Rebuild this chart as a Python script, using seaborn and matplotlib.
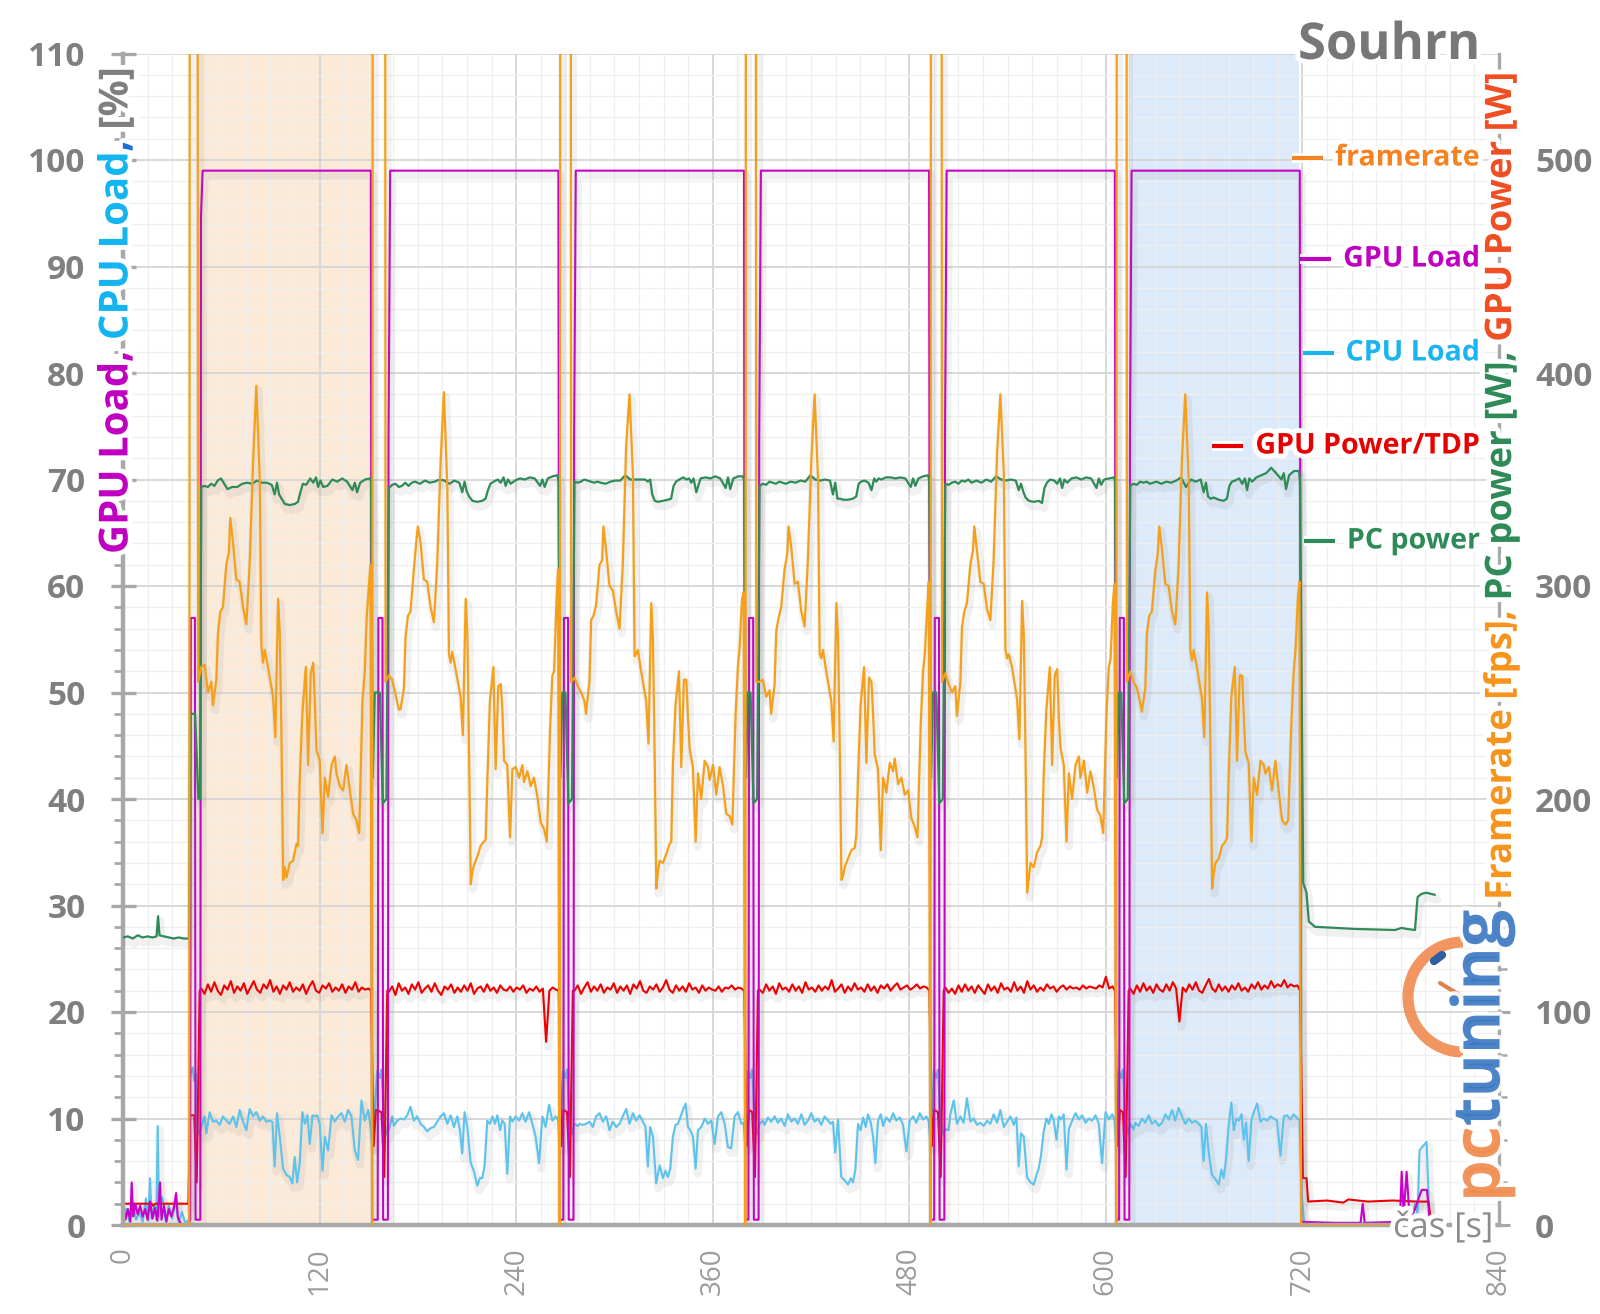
import numpy as np
import matplotlib
matplotlib.use("Agg")
import matplotlib.pyplot as plt
import matplotlib.patheffects as pe
from matplotlib.ticker import MultipleLocator
from matplotlib.lines import Line2D
from matplotlib.patches import Arc
from matplotlib.transforms import IdentityTransform
import seaborn as sns

sns.set_style("white")
plt.rcParams['font.family'] = ['Open Sans', 'DejaVu Sans']

# ---------------- data ----------------
RUN_START = [47.8, 162.3, 275.6, 388.6, 502.0, 614.9]   # s, start of each benchmark run
RUN_LEN = 103.3
SHADE_ORANGE = (45.8, 152.2)
SHADE_BLUE = (614.3, 718.2)

# framerate [fps] inside runs (relative time grid)
FPS_REL = [0, 2.0, 4.1, 6.1, 7.1, 9.2, 10.2, 11.6, 13.2, 15.3, 16.9, 17.7, 19.4, 21.4, 23.4, 25.5,
           27.5, 29.5, 31.6, 33.6, 35.7, 36.7, 37.7, 38.7, 40.7, 43.8, 45.2, 46.9, 47.9, 48.9, 50.0,
           51.0, 52.0, 54.0, 56.0, 58.1, 59.1, 60.1, 61.7, 63.8, 65.2, 66.8, 68.3, 69.3, 70.3, 72.3,
           74.0, 75.4, 77.4, 79.5, 81.5, 82.5, 84.6, 86.6, 88.6, 90.7, 92.7, 94.7, 96.4, 98.4, 99.8,
           100.9, 102.3, 103.3]
FPS_RUN1 = [262, 263, 250, 255, 244, 256, 278, 288, 290, 310, 316, 332, 320, 303, 302, 290, 282, 310, 358, 394,
            350, 272, 264, 270, 262, 248, 229, 294, 278, 232, 162, 168, 163, 170, 171, 179, 178, 209, 240, 262,
            216, 259, 264, 246, 223, 218, 184, 210, 201, 216, 220, 212, 206, 204, 216, 204, 193, 190, 184, 246,
            260, 284, 300, 310]
FPS_RUN2 = [258, 256, 249, 242, 242, 252, 276, 286, 288, 308, 322, 328, 320, 303, 302, 290, 283, 310, 358, 391,
            346, 268, 264, 269, 261, 248, 230, 294, 278, 226, 160, 166, 169, 173, 178, 180, 181, 208, 246, 262,
            214, 253, 254, 242, 218, 216, 182, 214, 215, 210, 216, 208, 213, 206, 210, 201, 189, 186, 180, 232,
            258, 260, 292, 308]
FPS_RUN3 = [257, 253, 250, 246, 240, 256, 284, 286, 291, 310, 312, 328, 316, 300, 298, 288, 280, 310, 366, 390,
            352, 267, 268, 270, 260, 246, 226, 292, 275, 224, 158, 166, 171, 170, 174, 179, 180, 216, 244, 260,
            215, 256, 256, 238, 224, 215, 180, 212, 200, 218, 215, 209, 216, 202, 215, 206, 193, 192, 188, 240,
            262, 272, 294, 297]
FPS_RUN4 = [255, 256, 248, 251, 240, 254, 279, 285, 290, 308, 315, 328, 318, 301, 302, 288, 281, 312, 359, 390,
            350, 268, 266, 270, 260, 246, 227, 292, 276, 228, 162, 164, 168, 172, 176, 177, 183, 210, 244, 262,
            217, 257, 255, 240, 221, 214, 176, 210, 203, 217, 213, 219, 207, 210, 202, 204, 191, 187, 182, 235,
            260, 268, 289, 302]
FPS_RUN5 = [259, 254, 250, 253, 239, 255, 281, 288, 292, 310, 317, 328, 316, 302, 301, 289, 284, 312, 362, 390,
            353, 270, 266, 268, 262, 247, 228, 293, 277, 225, 156, 163, 170, 168, 175, 178, 182, 212, 242, 262,
            216, 258, 261, 238, 224, 216, 180, 212, 200, 216, 220, 210, 218, 203, 213, 205, 195, 192, 184, 240,
            262, 266, 292, 301]
FPS_RUN6 = [260, 255, 252, 245, 241, 252, 278, 286, 288, 307, 316, 328, 317, 301, 300, 288, 282, 309, 360, 390,
            349, 270, 265, 270, 262, 247, 229, 297, 279, 226, 158, 165, 170, 172, 178, 180, 182, 211, 248, 262,
            218, 258, 258, 239, 222, 217, 180, 210, 202, 218, 216, 212, 215, 204, 218, 203, 190, 188, 190, 236,
            260, 270, 294, 302]
FPS_RUNS = [FPS_RUN1, FPS_RUN2, FPS_RUN3, FPS_RUN4, FPS_RUN5, FPS_RUN6]
FPS_PRE_T = [0, 40.4, 41.0, 45.3, 45.8]
FPS_PRE_V = [0, 0, 1000, 1000, 255]
FPS_GAP_AFTER = [(1.0, 0), (1.6, 1000)]      # relative to run end
FPS_GAP_BEFORE = [(-2.5, 1000), (-2.0, 255)]  # relative to next run start
FPS_POST_T = [719.2, 772.5]
FPS_POST_V = [0, 0]

# GPU load [%]
GPU_STEP = [94.7, 74, 74, 74, 74, 74]
GPU_TOP = 99
GPU_PRE_T = [0, 1.5, 3, 4.5, 5.3, 6.2, 7.5, 9, 10.5, 12, 13.5, 15, 16.5, 18, 19.5, 21, 22.6, 23.5, 25, 26.5,
             28, 29.5, 31, 32.4, 33.5, 35, 37, 40]
GPU_PRE_V = [1.8, 0.5, 1.5, 0.3, 4.0, 0.8, 2.0, 1.0, 1.8, 0.8, 1.5, 0.5, 2.2, 0.6, 1.6, 0.4, 4.0, 0.5, 1.8, 0.3,
             1.5, 0.8, 1.6, 3.0, 0.7, 0.2, 0.0, 0.0]
GPU_GAP_AFTER = [(1.0, 0.5)]
GPU_GAP_BEFORE = [(-6.8, 0.5), (-6.4, 57), (-3.9, 57), (-3.5, 0.5)]
GPU_POST_T = [718.4, 719.2, 740, 755.5, 756.8, 758, 779.5, 780.6, 781.8, 783.6, 785.5, 788.7, 792.8, 796, 797.5]
GPU_POST_V = [99, 0.3, 0.2, 0.2, 2.0, 0.2, 0.3, 5.0, 1.0, 5.0, 0.5, 1.5, 3.3, 3.3, 0.8]

# CPU load [%]
CPU_REL = [0, 2.0, 3.1, 5.1, 7.1, 9.2, 11.2, 13.2, 15.3, 17.3, 19.4, 21.4, 23.4, 25.5, 27.5, 29.5, 31.6, 33.6,
           35.7, 37.7, 39.7, 41.8, 43.4, 44.8, 46.2, 47.9, 49.9, 52.0, 54.0, 55.6, 57.0, 58.5, 60.1, 61.7, 63.2,
           64.8, 66.2, 67.9, 69.3, 70.7, 72.3, 74.0, 75.4, 77.4, 79.5, 81.5, 83.5, 85.6, 87.6, 89.6, 91.7, 93.7,
           95.7, 97.8, 99.8, 101.9, 103.3]
CPU_RUN1 = [9.2, 10.2, 8.6, 10.6, 9.7, 9.8, 9.4, 10.2, 9.8, 9.5, 10.2, 9.2, 10.8, 9.7, 8.9, 10.9, 10.2, 10.6, 9.8,
            10.2, 9.7, 9.8, 9.7, 5.5, 10.5, 8.3, 5.3, 4.7, 4.5, 3.9, 6.4, 4.0, 5.8, 10.6, 9.5, 10.3, 7.6, 10.3, 10.2,
            10.3, 9.5, 5.1, 8.3, 7.0, 10.3, 9.7, 10.2, 10.5, 9.7, 10.8, 10.2, 7.0, 6.1, 11.7, 9.8, 10.8, 9.2]
CPU_RUN2 = [8.9, 10.2, 9.3, 9.8, 10.0, 9.9, 10.3, 11.1, 9.8, 10.2, 9.5, 9.2, 8.8, 9.1, 9.2, 9.7, 10.2, 10.5, 9.5,
            10.3, 9.2, 10.2, 8.9, 6.7, 10.6, 9.2, 5.9, 5.0, 3.7, 4.4, 4.4, 5.6, 9.8, 9.5, 10.2, 9.5, 10.3, 8.9, 9.8,
            9.5, 4.8, 10.2, 9.7, 10.2, 9.8, 10.5, 9.7, 10.6, 9.5, 8.3, 5.8, 10.2, 9.2, 11.3, 9.8, 10.2, 9.9]
CPU_RUN3 = [9.5, 9.3, 9.5, 9.4, 9.5, 9.7, 9.2, 10.2, 10.5, 9.7, 10.2, 8.9, 9.7, 9.2, 9.5, 10.2, 10.9, 9.5, 10.5,
            9.8, 10.3, 9.7, 9.2, 5.5, 9.2, 8.3, 3.9, 5.6, 4.4, 5.1, 4.5, 5.3, 8.3, 9.4, 9.5, 10.2, 10.8, 11.4, 9.2,
            8.9, 8.3, 5.3, 8.9, 9.2, 10.0, 9.5, 9.8, 7.6, 10.2, 10.6, 9.5, 7.3, 7.2, 10.2, 10.6, 9.5, 9.6]
CPU_RUN4 = [9.5, 9.8, 9.4, 10.1, 9.7, 10.2, 9.6, 10.0, 9.3, 10.4, 9.7, 10.0, 9.5, 10.4, 9.4, 9.8, 10.5, 9.7, 10.0,
            9.4, 10.2, 9.8, 9.5, 9.7, 6.8, 9.9, 4.5, 4.2, 3.8, 4.4, 4.0, 5.2, 9.5, 8.9, 10.1, 9.2, 10.4, 9.6, 8.3,
            5.8, 9.8, 10.4, 9.3, 10.1, 9.7, 10.5, 9.8, 10.1, 9.4, 6.9, 9.8, 10.2, 9.6, 10.5, 9.9, 10.2, 9.7]
CPU_RUN5 = [9.0, 8.9, 10.4, 11.7, 9.5, 10.2, 9.6, 11.9, 9.7, 10.0, 9.4, 9.6, 9.3, 9.8, 9.5, 10.4, 9.6, 10.8, 9.2,
            9.7, 10.2, 9.4, 10.1, 5.5, 8.6, 8.3, 4.5, 4.0, 3.8, 4.7, 5.3, 6.6, 8.8, 10.0, 9.5, 10.4, 9.8, 8.0, 10.2,
            9.9, 10.4, 5.2, 9.0, 9.8, 10.5, 9.9, 10.3, 9.6, 10.0, 9.8, 10.3, 9.5, 5.8, 10.6, 9.9, 10.4, 9.8]
CPU_RUN6 = [9.5, 9.0, 9.6, 9.3, 10.0, 9.6, 10.3, 9.5, 9.8, 9.3, 9.6, 10.4, 9.9, 10.8, 9.8, 11.0, 10.2, 9.5, 10.0,
            9.6, 9.8, 9.5, 9.2, 6.0, 9.5, 6.8, 4.7, 4.3, 3.8, 5.2, 4.4, 6.2, 9.4, 11.5, 8.9, 10.0, 9.8, 10.4, 8.0,
            9.6, 6.0, 9.9, 10.6, 11.4, 9.7, 10.0, 9.8, 10.2, 10.0, 9.8, 6.5, 10.2, 10.3, 9.9, 10.4, 10.0, 9.9]
CPU_RUNS = [CPU_RUN1, CPU_RUN2, CPU_RUN3, CPU_RUN4, CPU_RUN5, CPU_RUN6]
CPU_PRE_T = [0, 2, 4, 6, 8, 10, 12, 14, 15.5, 16.5, 17.5, 19, 20.3, 21.2, 22, 24, 26, 28, 30, 32, 34, 36, 38, 40.4,
             41.0, 42.5, 43.5, 44.5, 45.5, 46.3]
CPU_PRE_V = [0.5, 1.5, 0.3, 2.0, 0.5, 1.2, 0.3, 2.5, 0.4, 4.4, 0.6, 1.8, 0.5, 9.3, 0.8, 2.6, 0.4, 1.8, 0.6, 2.2,
             0.3, 1.2, 0.2, 0.5, 14.0, 14.8, 13.5, 14.2, 9.0, 8.5]
CPU_GAP_AFTER = [(1.0, 7.5)]
CPU_GAP_BEFORE = [(-7.0, 14.5), (-5.5, 13.8), (-4.5, 14.6), (-3.0, 10.0), (-1.5, 8.5)]
CPU_POST_T = [719.5, 721, 760, 787, 788.7, 790.3, 791.5, 793.5, 795.8, 797.3]
CPU_POST_V = [3.0, 0.2, 0.2, 0.3, 2.0, 1.0, 7.0, 7.4, 7.8, 1.5]

# GPU Power/TDP [%], sampled every 2 s inside runs
RED_STEP = 2
RED_RUN1 = [22.2, 21.7, 22.6, 21.9, 22.8, 22.0, 21.6, 22.5, 22.1, 22.9, 21.8, 22.4, 22.0, 22.7, 21.7, 22.3, 22.9,
            22.1, 21.8, 22.6, 22.2, 23.0, 21.9, 22.4, 21.7, 22.5, 22.1, 22.8, 21.9, 22.3, 22.0, 22.6, 21.7, 22.4,
            22.9, 22.0, 21.8, 22.5, 22.2, 22.7, 21.9, 22.3, 22.0, 22.6, 21.8, 22.4, 22.1, 22.8, 21.9, 22.3, 22.1, 22.2]
RED_RUN2 = [21.9, 22.4, 21.6, 22.7, 22.0, 22.3, 21.7, 22.6, 22.1, 22.8, 21.8, 22.2, 22.5, 21.9, 22.7, 22.0, 21.6,
            22.4, 22.1, 22.6, 21.8, 22.3, 21.9, 22.5, 22.0, 22.7, 21.7, 22.2, 22.4, 21.9, 22.6, 22.0, 22.3, 21.8,
            22.5, 22.1, 22.0, 22.4, 21.9, 22.3, 22.1, 22.5, 21.8, 22.2, 22.0, 22.4, 21.9, 22.2, 17.2, 22.0, 22.3, 22.1]
RED_RUN3 = [22.0, 22.5, 21.7, 22.3, 22.8, 21.9, 22.4, 22.0, 22.6, 21.8, 22.3, 22.1, 22.7, 21.8, 22.4, 22.0, 22.5,
            21.7, 22.6, 22.2, 22.9, 22.0, 21.8, 22.4, 22.1, 22.6, 21.9, 22.3, 23.0, 22.1, 21.8, 22.5, 22.0, 22.4,
            21.9, 22.7, 22.1, 22.3, 21.8, 22.5, 22.0, 22.3, 22.1, 22.0, 22.4, 21.9, 22.3, 22.2, 22.5, 22.1, 22.3, 22.2]
RED_RUN4 = [22.1, 21.8, 22.6, 22.0, 22.4, 21.7, 22.7, 22.1, 22.3, 21.9, 22.6, 22.0, 22.4, 21.8, 22.8, 22.1, 22.3,
            21.9, 22.5, 22.0, 22.4, 22.1, 23.0, 21.9, 22.2, 22.6, 21.8, 22.4, 22.0, 22.7, 22.1, 22.3, 21.9, 22.6,
            22.0, 22.4, 21.8, 22.5, 22.2, 22.6, 22.0, 22.4, 22.7, 22.1, 22.3, 22.5, 22.1, 22.3, 22.6, 22.2, 22.4, 22.3]
RED_RUN5 = [22.3, 21.8, 22.2, 21.7, 22.5, 21.9, 22.6, 22.0, 22.4, 21.8, 22.5, 22.1, 21.7, 22.6, 22.0, 22.4, 21.8,
            22.7, 22.1, 22.3, 21.9, 22.8, 22.0, 22.4, 21.8, 22.9, 22.1, 22.5, 21.9, 22.3, 22.0, 22.6, 22.2, 22.4,
            21.9, 22.3, 22.5, 22.1, 22.4, 22.2, 22.3, 22.1, 22.5, 22.2, 22.4, 22.3, 22.2, 22.5, 22.3, 23.3, 22.2, 22.4]
RED_RUN6 = [22.2, 21.7, 22.5, 21.9, 22.7, 22.0, 22.4, 21.8, 22.6, 22.1, 21.9, 22.6, 22.0, 22.8, 22.2, 19.1, 22.3,
            21.9, 22.6, 22.1, 22.8, 22.0, 21.8, 22.5, 23.1, 22.2, 21.9, 22.6, 22.0, 22.4, 21.9, 22.5, 22.1, 22.7,
            22.0, 22.3, 21.9, 22.6, 22.2, 22.8, 22.1, 22.5, 22.2, 22.9, 22.3, 22.6, 22.4, 23.0, 22.3, 22.6, 22.4, 22.5]
RED_RUNS = [RED_RUN1, RED_RUN2, RED_RUN3, RED_RUN4, RED_RUN5, RED_RUN6]
RED_PRE_T = [0, 10, 17.5, 18.5, 19.5, 30, 40.0, 40.8, 43.5, 45.0, 46.8]
RED_PRE_V = [2.0, 2.0, 2.0, 1.8, 2.0, 2.0, 2.0, 10.3, 10.3, 4.0, 22.0]
RED_GAP_AFTER = [(0.4, 22.0), (1.9, 7.4), (3.3, 10.8)]
RED_GAP_BEFORE = [(-4.5, 10.6), (-2.8, 4.5), (-1.0, 22.0)]
RED_POST_T = [718.6, 720.3, 722.5, 723.5, 735, 745, 748, 760, 775, 790, 797, 798]
RED_POST_V = [22.0, 4.4, 4.4, 2.2, 2.3, 2.1, 2.4, 2.2, 2.3, 2.2, 2.2, 0.9]

# PC power [W]
PWR_REL = [0, 2, 4, 6, 8, 10, 12, 14, 16, 19, 22, 25, 28, 31, 34, 37, 40, 43, 44.8, 46.2, 47.5, 49, 51, 54, 57,
           59, 60.5, 62, 64, 66.5, 68.3, 70, 71.3, 72.7, 74.4, 77, 80, 83, 86, 89, 92.3, 93.7, 95.1, 97, 100, 103]
PWR_RUN1 = [346.5, 347, 346.5, 348, 347, 349.5, 350.5, 348, 345.5, 346.5, 346.5, 348, 348.5, 348, 349.5, 348.5,
            348.5, 347.5, 343, 348.5, 343, 341, 338.5, 338, 338.5, 339.5, 344, 348, 347.5, 350.5, 348.5, 351,
            346.5, 349.5, 346.5, 347, 350, 349, 350.5, 349, 345, 348.5, 344, 348.5, 350, 350.5]
PWR_RUN2 = [346, 347.5, 348, 346.5, 347, 348.5, 347, 348.5, 349, 348, 349.5, 348.5, 349, 350, 349.5, 348, 349.5,
            348.5, 344, 349, 344.5, 342, 340, 339.5, 340, 341, 345, 348, 349, 350, 348.5, 351, 347, 350, 348,
            349.5, 350.5, 350, 351, 350.5, 347, 350, 346.5, 350.5, 351.5, 352]
PWR_RUN3 = [349, 348.5, 349, 350, 349.5, 349, 348.5, 349, 348.5, 348, 349, 349.5, 349.5, 352, 350, 350, 350, 350,
            349, 350, 343, 340, 339.5, 340, 340.5, 341, 347, 349, 350, 351, 350, 350.5, 348.5, 350.5, 344, 350.5,
            351, 350.5, 351.5, 350.5, 346, 351, 345.5, 350.5, 351.5, 351.5]
PWR_RUN4 = [347, 348, 347.5, 349, 348.5, 348, 349, 348.5, 348, 349, 348.5, 349.5, 349, 352, 350, 349.5, 350,
            349.5, 343, 348.5, 341, 341, 340.5, 340.5, 341, 342, 348, 349, 349.5, 348.5, 345, 350.5, 349, 350.5,
            350, 351, 351, 350.5, 351, 350.5, 346.5, 350.5, 347, 350.5, 351.5, 352]
PWR_RUN5 = [348, 347.5, 348.5, 349, 348, 349.5, 349, 350, 348.5, 349.5, 348.5, 350, 349, 351.5, 350, 349.5, 350,
            349.5, 345, 348, 344.5, 341.5, 340, 339.5, 340, 339, 346, 348.5, 350, 349.5, 348, 350.5, 346, 350,
            348.5, 350.5, 351, 350, 351, 350.5, 346, 350.5, 347.5, 350, 350.5, 351]
PWR_RUN6 = [347, 348, 347.5, 349, 348.5, 349, 348, 348.5, 349, 348, 349, 348.5, 349.5, 351, 346.5, 350, 349, 350,
            344, 348.5, 342, 341, 341.5, 340.5, 340, 341, 347, 349, 349.5, 350.5, 348, 350.5, 345, 350.5, 349, 351,
            352, 353, 355.5, 353, 350, 353, 345.5, 352, 354, 354]
PWR_RUNS = [PWR_RUN1, PWR_RUN2, PWR_RUN3, PWR_RUN4, PWR_RUN5, PWR_RUN6]
PWR_PRE_T = [0, 3, 6, 9, 12, 15, 18, 20.5, 21.4, 22.3, 25, 28, 31, 34, 37, 40.3, 41.0, 44.0, 46.0, 47.0]
PWR_PRE_V = [135, 135.5, 134.5, 136, 135, 135.5, 135, 135.5, 145, 136, 135.5, 135, 134.5, 135, 134.5, 134.5,
             240, 240, 200, 200]
PWR_GAP_AFTER = [(0.3, 349), (1.4, 210), (2.6, 250)]
PWR_GAP_BEFORE = [(-5.5, 250), (-3.7, 198), (-1.5, 200)]
PWR_POST_T = [718.5, 720.5, 722.5, 723.9, 727.6, 739.8, 752, 776.5, 780.6, 783.6, 788.7, 790.3, 792.8, 795.8, 800.9]
PWR_POST_V = [349, 160.5, 156, 142.5, 140, 139.5, 139, 138.5, 139.5, 139, 138.5, 154, 155.5, 156, 155]

X_TICKS = [0, 120, 240, 360, 480, 600, 720, 840]
LEFT_TICKS = [0, 10, 20, 30, 40, 50, 60, 70, 80, 90, 100, 110]
RIGHT_TICKS = [0, 100, 200, 300, 400, 500]

LEGEND = [("framerate", "#f58220"), ("GPU Load", "#c000c0"), ("CPU Load", "#1ab4ee"),
          ("GPU Power/TDP", "#e60000"), ("PC power", "#2e8b57")]


# ---------------- assemble series ----------------
def assemble(pre_t, pre_v, run_fn, gap_after, gap_before, post_t, post_v):
    t, v = list(pre_t), list(pre_v)
    for k, s in enumerate(RUN_START):
        if k > 0:
            e = RUN_START[k - 1] + RUN_LEN
            for dt, val in gap_after:
                t.append(e + dt); v.append(val)
            for dt, val in gap_before:
                t.append(s + dt); v.append(val)
        rt, rv = run_fn(k)
        t += [s + x for x in rt]
        v += list(rv)
    t += list(post_t); v += list(post_v)
    return np.array(t, float), np.array(v, float)


fps_t, fps_v = assemble(FPS_PRE_T, FPS_PRE_V, lambda k: (FPS_REL, FPS_RUNS[k]),
                        FPS_GAP_AFTER, FPS_GAP_BEFORE, FPS_POST_T, FPS_POST_V)
gpu_t, gpu_v = assemble(GPU_PRE_T + [41.0, 41.4, 43.9, 44.3], GPU_PRE_V + [0.5, 57, 57, 0.5],
                        lambda k: ([-0.6, -0.2, 0.8, RUN_LEN + 0.2], [0.5, GPU_STEP[k], GPU_TOP, GPU_TOP]),
                        GPU_GAP_AFTER, GPU_GAP_BEFORE, GPU_POST_T, GPU_POST_V)
cpu_t, cpu_v = assemble(CPU_PRE_T, CPU_PRE_V, lambda k: (CPU_REL, CPU_RUNS[k]),
                        CPU_GAP_AFTER, CPU_GAP_BEFORE, CPU_POST_T, CPU_POST_V)
red_t, red_v = assemble(RED_PRE_T, RED_PRE_V,
                        lambda k: ([RED_STEP * i for i in range(len(RED_RUNS[k]))], RED_RUNS[k]),
                        RED_GAP_AFTER, RED_GAP_BEFORE, RED_POST_T, RED_POST_V)
pwr_t, pwr_v = assemble(PWR_PRE_T, PWR_PRE_V, lambda k: (PWR_REL, PWR_RUNS[k]),
                        PWR_GAP_AFTER, PWR_GAP_BEFORE, PWR_POST_T, PWR_POST_V)

# ---------------- figure ----------------
W, H = 1600, 1314
fig = plt.figure(figsize=(W / 100, H / 100), dpi=100)
fig.patch.set_facecolor("white")
ax = fig.add_axes([123 / W, 89 / H, (1499 - 123) / W, (1225 - 53.5) / H])
ax2 = ax.twinx()

ax.set_xlim(0, 840)
ax.set_ylim(0, 110)
ax2.set_ylim(0, 550)

ax.axvspan(*SHADE_ORANGE, color="#fcead9", zorder=0.5, lw=0)
ax.axvspan(*SHADE_BLUE, color="#dceafa", zorder=0.5, lw=0)

ax.xaxis.set_minor_locator(MultipleLocator(15))
ax.yaxis.set_minor_locator(MultipleLocator(2))
ax2.yaxis.set_minor_locator(MultipleLocator(20))
ax.grid(which="major", color="#d6d6d6", lw=1.3)
ax.grid(which="minor", color="#efefef", lw=0.9)
ax2.grid(False)

shadow = [pe.SimpleLineShadow(offset=(1.5, -3.5), shadow_color="#7a7a7a", alpha=0.10, linewidth=6),
          pe.Normal()]


def draw(axis, t, v, color, lw, z):
    sns.lineplot(x=t, y=v, ax=axis, color=color, linewidth=lw, estimator=None,
                 sort=False, zorder=z, legend=False, path_effects=shadow)


draw(ax, cpu_t, cpu_v, "#5cc3ec", 1.5, 2.0)
draw(ax, red_t, red_v, "#ee0000", 1.5, 2.1)
draw(ax, gpu_t, gpu_v, "#c800c8", 1.5, 2.2)
draw(ax2, pwr_t, pwr_v, "#2e8b57", 1.6, 2.0)
draw(ax2, fps_t, fps_v, "#f5a01a", 1.6, 2.1)

for a in (ax, ax2):
    a.set_xlabel(""); a.set_ylabel("")

ax.set_xticks(X_TICKS)
ax.set_xticklabels([str(x) for x in X_TICKS])
ax.set_yticks(LEFT_TICKS)
ax.set_yticklabels([str(y) for y in LEFT_TICKS])
ax2.set_yticks(RIGHT_TICKS)
ax2.set_yticklabels([str(y) for y in RIGHT_TICKS])

spine_c = "#a8a8a8"
for a in (ax, ax2):
    a.spines["top"].set_visible(False)
ax.spines["right"].set_visible(False)
ax2.spines["left"].set_visible(False)
ax2.spines["bottom"].set_visible(False)
ax.spines["left"].set_color(spine_c); ax.spines["left"].set_linewidth(3.2)
ax.spines["bottom"].set_color(spine_c); ax.spines["bottom"].set_linewidth(3.2)
ax2.spines["right"].set_color(spine_c); ax2.spines["right"].set_linewidth(2.4)

ax.tick_params(axis="y", which="major", direction="inout", length=18, width=2.4, color=spine_c,
               pad=18, labelsize=24, labelcolor="#7f7f7f")
ax.tick_params(axis="y", which="minor", direction="out", length=6.5, width=2, color=spine_c)
ax.tick_params(axis="x", which="major", direction="out", length=7, width=2.4, color=spine_c,
               pad=9, labelsize=20, labelcolor="#9c9c9c", labelrotation=90)
ax.tick_params(axis="x", which="minor", length=0)
ax2.tick_params(axis="y", which="major", direction="inout", length=16, width=2.2, color=spine_c,
                pad=18, labelsize=24, labelcolor="#7f7f7f")
ax2.tick_params(axis="y", which="minor", direction="out", length=5.5, width=1.8, color=spine_c)
for lbl in ax.get_yticklabels() + ax2.get_yticklabels():
    lbl.set_fontweight("bold")

# ---------------- texts ----------------
renderer = fig.canvas.get_renderer()
glow = [pe.withStroke(linewidth=7, foreground="white")]


def measure(s, size, weight):
    t = fig.text(0, 0, s, fontsize=size, fontweight=weight)
    w = t.get_window_extent(renderer).width
    t.remove()
    return w


def fit(s, target, weight, base=20):
    return base * target / measure(s, base, weight)


def vertical_multicolor(pieces, x_px, y0_px, length, weight="bold"):
    full = "".join(p for p, _ in pieces)
    size = fit(full, length, weight)
    done = ""
    for txt, col in pieces:
        off = (measure(done + "|", size, weight) - measure("|", size, weight)) if done else 0
        fig.text(x_px / W, (y0_px + off) / H, txt, rotation=90, rotation_mode="anchor",
                 ha="left", va="center", color=col, fontsize=size, fontweight=weight,
                 path_effects=glow, zorder=5)
        done += txt
    return size


vertical_multicolor([("GPU Load", "#c000c0"), (", ", "#c000c0"), ("CPU Load", "#14b4f0"),
                     (", ", "#1a6fd0"), ("[%]", "#7f7f7f")], 117, H - 554, 488)
vertical_multicolor([("Framerate [fps]", "#f7941d"), (", ", "#f7941d"), ("PC power [W]", "#2e8b57"),
                     (", ", "#2e8b57"), ("GPU Power [W]", "#f04e23")], 1501, H - 900, 829)

# title
ts = fit("Souhrn", 182, "bold")
fig.text(1480 / W, (H - 46) / H, "Souhrn", ha="right", va="center", fontsize=ts, fontweight="bold",
         color="#777777", path_effects=glow, zorder=5)

# right-side legend
leg_y = [158, 259, 353, 446, 541]
ls = fit("GPU Load", 137, "bold")
for (name, col), yy in zip(LEGEND, leg_y):
    yf = H - yy
    fig.text(1480 / W, yf / H, name, ha="right", va="center", fontsize=ls, fontweight="bold",
             color=col, path_effects=glow, zorder=5)
    wpx = measure(name, ls, "bold")
    x1 = 1480 - wpx - 12
    fig.add_artist(Line2D([x1 - 31, x1], [yf, yf], transform=IdentityTransform(), color=col,
                          lw=3, solid_capstyle="butt", zorder=5,
                          path_effects=[pe.withStroke(linewidth=7, foreground="white")]))

# axis caption
cs = fit("čas [s]", 100, "normal")
fig.text(1493 / W, 86 / H, "čas [s]", ha="right", va="center", fontsize=cs, color="#8c8c8c",
         path_effects=glow, zorder=5)

# pctuning logo
fig.add_artist(Arc((1463, 317), 110, 110, theta1=90, theta2=270, transform=IdentityTransform(),
                   color="#f08a50", lw=8, alpha=0.9, zorder=4))
fig.add_artist(Line2D([1463, 1440], [317, 331], transform=IdentityTransform(), color="#e0804a",
                      lw=3, zorder=4))
fig.add_artist(Line2D([1434, 1442], [353, 359], transform=IdentityTransform(), color="#2f5f9e",
                      lw=6, zorder=4))
lsz = fit("pctuning", 292, "bold")
done = ""
for txt, col in [("pc", "#ef8a4c"), ("tuning", "#3b78c3")]:
    off = (measure(done + "|", lsz, "bold") - measure("|", lsz, "bold")) if done else 0
    fig.text(1482 / W, (112 + off) / H, txt, rotation=90, rotation_mode="anchor", ha="left",
             va="center", fontsize=lsz, fontweight="bold", color=col, alpha=0.9,
             path_effects=[pe.withStroke(linewidth=6, foreground="white")], zorder=4)
    done += txt

fig.savefig("out.png", dpi=100, facecolor="white")
